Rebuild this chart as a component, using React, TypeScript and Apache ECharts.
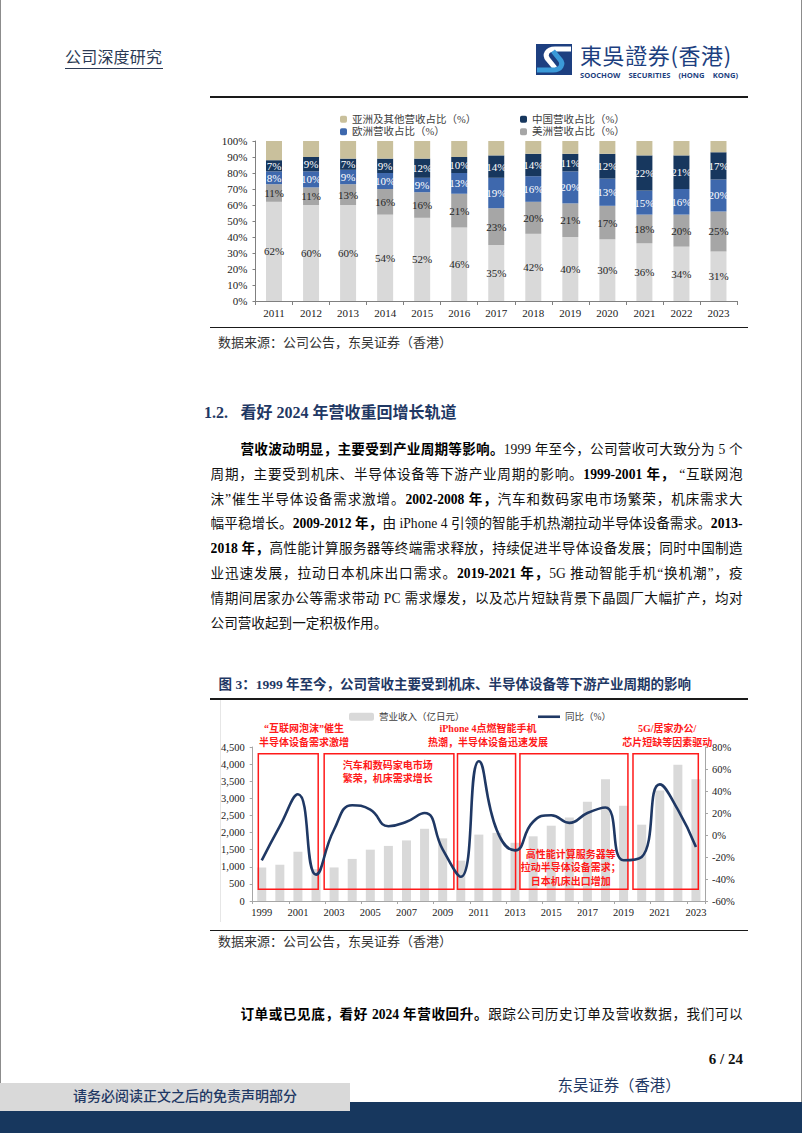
import React, { useEffect, useRef } from "react";
import * as echarts from "echarts";

const SERIF = "'Liberation Serif', 'Times New Roman', 'Noto Sans CJK SC', serif";
const CJK = "'Liberation Serif', 'Noto Sans CJK SC', sans-serif";
const NAVY = "#1f3864";

// ---------- Chart 1: revenue share by region ----------
const shareYears = ["2011", "2012", "2013", "2014", "2015", "2016", "2017", "2018", "2019", "2020", "2021", "2022", "2023"];
const japanShare = [62, 60, 60, 54, 52, 46, 35, 42, 40, 38.5, 36, 34, 31];
const americasShare = [11, 11, 13, 16, 16, 21, 23, 20, 21, 21, 18, 20, 25];
const europeShare = [8, 10, 9, 10, 9, 13, 19, 16, 20, 17, 15, 16, 20];
const chinaShare = [7, 9, 7, 9, 12, 10, 14, 14, 11, 15.5, 22, 21, 17];
const asiaOtherShare = [12, 10, 11, 11, 11, 10, 9, 8, 8, 8, 9, 9, 7];
// printed labels (as shown in the source figure)
const japanLabels = [62, 60, 60, 54, 52, 46, 35, 42, 40, 30, 36, 34, 31];
const americasLabels = [11, 11, 13, 16, 16, 21, 23, 20, 21, 17, 18, 20, 25];
const europeLabels = [8, 10, 9, 10, 9, 13, 19, 16, 20, 13, 15, 16, 20];
const chinaLabels = [7, 9, 7, 9, 12, 10, 14, 14, 11, 12, 22, 21, 17];

// ---------- Chart 2: revenue & YoY ----------
const revYears = ["1999", "2000", "2001", "2002", "2003", "2004", "2005", "2006", "2007", "2008", "2009", "2010", "2011", "2012", "2013", "2014", "2015", "2016", "2017", "2018", "2019", "2020", "2021", "2022", "2023"];
const revenue = [980, 1060, 1440, 930, 980, 1230, 1500, 1610, 1770, 2110, 1830, 1180, 1940, 1990, 1700, 1890, 2200, 2440, 2900, 3560, 2780, 2230, 3230, 3980, 3560];
const yoy = [-23, 8, 37, -36, 5, 27, 23, 8, 12, 20, -13, -38, 67, 4, -14, 12, 18, 11, 20, 25, -23, -20, 46, 23, -11];
const cycleBoxes = [
  { x0: 1998.81, x1: 2002.12, y0: 340, y1: 4300, tx: 2001.33, place: "above", text: "“互联网泡沫”催生\n半导体设备需求激增" },
  { x0: 2002.45, x1: 2009.62, y0: 340, y1: 4300, tx: 2005.97, place: "top", text: "汽车和数码家电市场\n繁荣，机床需求增长" },
  { x0: 2009.82, x1: 2013.03, y0: 340, y1: 4300, tx: 2011.5, place: "above", text: "iPhone 4点燃智能手机\n热潮，半导体设备迅速发展" },
  { x0: 2013.27, x1: 2019.24, y0: 340, y1: 4300, tx: 2016.08, place: "bottom", text: "高性能计算服务器等\n拉动半导体设备需求；\n日本机床出口增加" },
  { x0: 2019.52, x1: 2023.13, y0: 340, y1: 4300, tx: 2021.41, place: "above", text: "5G/居家办公/\n芯片短缺等因素驱动" },
];

function ShareChart() {
  const ref = useRef<HTMLDivElement>(null);
  useEffect(() => {
    const chart = echarts.init(ref.current!, null, { renderer: "svg" });
    const mk = (name: string, data: number[], labels: number[] | null, color: string, labelColor: string) => ({
      name,
      type: "bar",
      stack: "total",
      barWidth: 16,
      data,
      itemStyle: { color },
      emphasis: { disabled: true },
      label: labels
        ? {
            show: true,
            position: "inside",
            formatter: (p: any) => labels[p.dataIndex] + "%",
            color: labelColor,
            fontSize: 11,
            fontFamily: SERIF,
          }
        : { show: false },
    });
    chart.setOption({
      animation: false,
      grid: { left: 55.5, right: 23, top: 41, bottom: 25 },
      legend: [
        {
          orient: "vertical",
          left: 135,
          top: 9,
          itemWidth: 7,
          itemHeight: 7,
          itemGap: 2,
          data: ["亚洲及其他营收占比（%）", "欧洲营收占比（%）"],
          textStyle: { fontSize: 10.5, color: "#404040", fontFamily: CJK },
        },
        {
          orient: "vertical",
          left: 315,
          top: 9,
          itemWidth: 7,
          itemHeight: 7,
          itemGap: 2,
          data: ["中国营收占比（%）", "美洲营收占比（%）"],
          textStyle: { fontSize: 10.5, color: "#404040", fontFamily: CJK },
        },
      ],
      xAxis: {
        type: "category",
        data: shareYears,
        axisLine: { lineStyle: { color: "#808080" } },
        axisTick: { show: true, length: 4, lineStyle: { color: "#808080" } },
        axisLabel: { color: "#222", fontSize: 11, fontFamily: SERIF, margin: 6 },
      },
      yAxis: {
        type: "value",
        min: 0,
        max: 100,
        interval: 10,
        splitLine: { show: false },
        axisLine: { show: true, lineStyle: { color: "#808080" } },
        axisTick: { show: true, length: 3, lineStyle: { color: "#808080" } },
        axisLabel: { formatter: "{value}%", color: "#222", fontSize: 11, fontFamily: SERIF, margin: 8 },
      },
      series: [
        mk("日本营收占比（%）", japanShare, japanLabels, "#d9d9d9", "#262626"),
        mk("美洲营收占比（%）", americasShare, americasLabels, "#a6a6a6", "#262626"),
        mk("欧洲营收占比（%）", europeShare, europeLabels, "#3e68ad", "#ffffff"),
        mk("中国营收占比（%）", chinaShare, chinaLabels, "#17375e", "#ffffff"),
        mk("亚洲及其他营收占比（%）", asiaOtherShare, null, "#c9c09c", "#000"),
      ],
    });
    return () => chart.dispose();
  }, []);
  return <div ref={ref} style={{ position: "absolute", left: 200, top: 100, width: 560, height: 226 }} />;
}

function RevenueChart() {
  const ref = useRef<HTMLDivElement>(null);
  useEffect(() => {
    const chart = echarts.init(ref.current!, null, { renderer: "svg" });
    chart.setOption({
      animation: false,
      grid: { left: 52.7, right: 55, top: 47, bottom: 25 },
      legend: [
        {
          left: 144,
          top: 7,
          itemWidth: 25,
          itemHeight: 8,
          itemGap: 10,
          data: ["营业收入（亿日元）"],
          textStyle: { fontSize: 9.5, color: "#404040", fontFamily: CJK },
        },
        {
          left: 333,
          top: 7,
          itemWidth: 22,
          itemHeight: 2.6,
          data: [{ name: "同比（%）", icon: "rect" }],
          textStyle: { fontSize: 9.5, color: "#404040", fontFamily: CJK },
        },
      ],
      xAxis: [
        {
          type: "category",
          data: revYears,
          axisLine: { lineStyle: { color: "#a6a6a6" } },
          axisTick: { show: true, length: 3, lineStyle: { color: "#a6a6a6" } },
          axisLabel: { interval: 1, color: "#222", fontSize: 10.5, fontFamily: SERIF, margin: 6 },
        },
        { type: "value", min: 1998.5, max: 2023.5, show: false },
      ],
      yAxis: [
        {
          type: "value",
          min: 0,
          max: 4500,
          interval: 500,
          splitLine: { show: false },
          axisLine: { show: true, lineStyle: { color: "#a6a6a6" } },
          axisTick: { show: true, length: 3, lineStyle: { color: "#a6a6a6" } },
          axisLabel: {
            formatter: (v: number) => v.toLocaleString("en-US"),
            color: "#222",
            fontSize: 10.5,
            fontFamily: SERIF,
            margin: 8,
          },
        },
        {
          type: "value",
          min: -60,
          max: 80,
          interval: 20,
          position: "right",
          splitLine: { show: false },
          axisLine: { show: true, lineStyle: { color: "#a6a6a6" } },
          axisTick: { show: true, length: 3, lineStyle: { color: "#a6a6a6" } },
          axisLabel: { formatter: "{value}%", color: "#222", fontSize: 10.5, fontFamily: SERIF, margin: 7 },
        },
      ],
      series: [
        {
          name: "营业收入（亿日元）",
          type: "bar",
          data: revenue,
          barWidth: 9,
          itemStyle: { color: "#d9d9d9" },
          emphasis: { disabled: true },
          z: 1,
        },
        {
          type: "custom",
          xAxisIndex: 1,
          yAxisIndex: 0,
          silent: true,
          z: 3,
          data: cycleBoxes.map((b) => [b.x0, b.y0, b.x1, b.y1]),
          encode: { x: [0, 2], y: [1, 3] },
          renderItem: (params: any, api: any) => {
            const b = cycleBoxes[params.dataIndex];
            const tl = api.coord([b.x0, b.y1]);
            const br = api.coord([b.x1, b.y0]);
            const tx = api.coord([b.tx, b.y1])[0];
            let ty = tl[1] - 5;
            let va = "bottom";
            if (b.place === "top") {
              ty = tl[1] + 5;
              va = "top";
            } else if (b.place === "bottom") {
              ty = br[1] - 1.5;
              va = "bottom";
            }
            return {
              type: "group",
              children: [
                {
                  type: "rect",
                  shape: { x: tl[0], y: tl[1], width: br[0] - tl[0], height: br[1] - tl[1] },
                  style: { fill: "none", stroke: "#ff1a1a", lineWidth: 1.5 },
                },
                {
                  type: "text",
                  x: tx,
                  y: ty,
                  style: {
                    text: b.text,
                    fill: "#ff1a1a",
                    fontSize: 10,
                    fontWeight: "bold",
                    fontFamily: CJK,
                    align: "center",
                    verticalAlign: va,
                    lineHeight: 13.3,
                  },
                },
              ],
            };
          },
        },
        {
          name: "同比（%）",
          type: "line",
          yAxisIndex: 1,
          data: yoy,
          smooth: true,
          symbol: "none",
          lineStyle: { color: NAVY, width: 2.6 },
          itemStyle: { color: NAVY },
          emphasis: { disabled: true },
          z: 5,
        },
      ],
    });
    return () => chart.dispose();
  }, []);
  return <div ref={ref} style={{ position: "absolute", left: 200, top: 700, width: 560, height: 226 }} />;
}

const abs = (s: React.CSSProperties): React.CSSProperties => ({ position: "absolute", ...s });

function TextLine({ cy, left, width, justify = true, children }: any) {
  return (
    <div
      style={abs({
        left,
        top: cy - 10,
        width,
        height: 20,
        lineHeight: "20px",
        fontSize: 13.6,
        textAlign: justify ? "justify" : "left",
        textAlignLast: justify ? "justify" : "left",
        overflow: "hidden",
        color: "#111",
      })}
    >
      {children}
    </div>
  );
}

const B = ({ children }: any) => <b style={{ fontWeight: 700, color: "#000" }}>{children}</b>;

export default function App() {
  return (
    <div
      style={{
        position: "absolute",
        left: 0,
        top: 0,
        width: 802,
        height: 1133,
        background: "#fff",
        overflow: "hidden",
        fontFamily: CJK,
      }}
    >
      {/* page frame */}
      <div style={abs({ left: 0, top: 0, width: 1, height: 1133, background: "#8c8c8c" })} />
      <div style={abs({ left: 801, top: 0, width: 1, height: 1133, background: "#8c8c8c" })} />

      {/* header */}
      <div style={abs({ left: 65, top: 48, fontSize: 16, lineHeight: "20px", color: "#2b3a55", letterSpacing: 0.2 })}>公司深度研究</div>
      <div style={abs({ left: 65, top: 67.5, width: 98, height: 1, background: "#2b3a55" })} />

      {/* logo */}
      <svg width="36" height="31" viewBox="0 0 36 31" style={abs({ left: 536, top: 44 })}>
        <rect x="0" y="0" width="36" height="31" fill="#1d3f80" />
        <path d="M35 5 L19 5 C11 5 8 11 12 15.5 L19 24" stroke="#ffffff" strokeWidth="5" fill="none" />
        <path d="M1 26 L17 26 C25 26 28 20 24 15.5 L17 7" stroke="#3b9ad8" strokeWidth="5" fill="none" />
      </svg>
      <div
        style={abs({
          left: 580,
          top: 43,
          height: 22,
          fontSize: 22,
          lineHeight: "22px",
          letterSpacing: 0.6,
          color: "#1d3f80",
          fontFamily: "'Noto Sans CJK TC', 'Noto Sans CJK SC', sans-serif",
          whiteSpace: "nowrap",
        })}
      >
        東吳證券(香港)
      </div>
      <div
        style={abs({
          left: 580,
          top: 70.5,
          width: 158,
          height: 9,
          fontSize: 7.6,
          lineHeight: "9px",
          fontWeight: 700,
          color: "#1d3f80",
          fontFamily: "'Open Sans', 'DejaVu Sans', sans-serif",
          whiteSpace: "nowrap",
          textAlign: "justify",
          textAlignLast: "justify",
        })}
      >
        SOOCHOW SECURITIES (HONG KONG)
      </div>

      {/* chart 1 frame */}
      <div style={abs({ left: 210, top: 95.5, width: 538, height: 2.2, background: "#1a1a1a" })} />
      <ShareChart />
      <div style={abs({ left: 210, top: 326.5, width: 538, height: 1.3, background: "#1a1a1a" })} />
      <div style={abs({ left: 218, top: 333, fontSize: 13, lineHeight: "20px", color: "#333", whiteSpace: "nowrap" })}>
        数据来源：公司公告，东吴证券（香港）
      </div>

      {/* heading */}
      <div style={abs({ left: 204, top: 403, fontSize: 16, lineHeight: "20px", fontWeight: 700, color: NAVY, fontFamily: SERIF })}>1.2.</div>
      <div style={abs({ left: 240.5, top: 403, fontSize: 16, lineHeight: "20px", fontWeight: 700, color: NAVY, whiteSpace: "nowrap" })}>
        看好 2024 年营收重回增长轨道
      </div>

      {/* paragraph */}
      <TextLine cy={450} left={240.5} width={502}>
        <B>营收波动明显，主要受到产业周期等影响。</B>1999 年至今，公司营收可大致分为 5 个
      </TextLine>
      <TextLine cy={474.8} left={210.6} width={532}>
        周期，主要受到机床、半导体设备等下游产业周期的影响。<B>1999-2001 年，</B> “互联网泡
      </TextLine>
      <TextLine cy={499.6} left={210.6} width={532}>
        沫”催生半导体设备需求激增。<B>2002-2008 年，</B>汽车和数码家电市场繁荣，机床需求大
      </TextLine>
      <TextLine cy={524.4} left={210.6} width={532}>
        幅平稳增长。<B>2009-2012 年，</B>由 iPhone 4 引领的智能手机热潮拉动半导体设备需求。<B>2013-</B>
      </TextLine>
      <TextLine cy={549.2} left={210.6} width={532}>
        <B>2018 年，</B>高性能计算服务器等终端需求释放，持续促进半导体设备发展；同时中国制造
      </TextLine>
      <TextLine cy={574} left={210.6} width={532}>
        业迅速发展，拉动日本机床出口需求。<B>2019-2021 年，</B>5G 推动智能手机“换机潮”，疫
      </TextLine>
      <TextLine cy={598.8} left={210.6} width={532}>
        情期间居家办公等需求带动 PC 需求爆发，以及芯片短缺背景下晶圆厂大幅扩产，均对
      </TextLine>
      <TextLine cy={623.6} left={210.6} width={532} justify={false}>
        公司营收起到一定积极作用。
      </TextLine>

      {/* chart 2 caption */}
      <div
        style={abs({ left: 218.6, top: 675, fontSize: 13.5, lineHeight: "20px", fontWeight: 700, color: NAVY, whiteSpace: "nowrap" })}
      >
        图 3：1999 年至今，公司营收主要受到机床、半导体设备等下游产业周期的影响
      </div>
      <div style={abs({ left: 210, top: 697.5, width: 538, height: 2.2, background: "#1a1a1a" })} />
      <div style={abs({ left: 220, top: 700, width: 1, height: 222, background: "#e6e6e6" })} />
      <RevenueChart />
      <div style={abs({ left: 210, top: 929.5, width: 538, height: 1.3, background: "#1a1a1a" })} />
      <div style={abs({ left: 218, top: 932, fontSize: 13, lineHeight: "20px", color: "#333", whiteSpace: "nowrap" })}>
        数据来源：公司公告，东吴证券（香港）
      </div>

      {/* next paragraph */}
      <TextLine cy={1015} left={240.4} width={502.3}>
        <B>订单或已见底，看好 2024 年营收回升。</B>跟踪公司历史订单及营收数据，我们可以
      </TextLine>

      {/* footer */}
      <div
        style={abs({ left: 643, top: 1049, width: 100, textAlign: "right", fontSize: 15, lineHeight: "20px", fontWeight: 700, color: "#111", fontFamily: SERIF })}
      >
        6 / 24
      </div>
      <div style={abs({ left: 0, top: 1101.7, width: 802, height: 32, background: "#17375e" })} />
      <div style={abs({ left: 0, top: 1082.7, width: 350.4, height: 28, background: "#d9d9d9" })} />
      <div
        style={abs({ left: 0, top: 1086.7, width: 370, textAlign: "center", fontSize: 14, lineHeight: "20px", fontWeight: 500, color: NAVY, whiteSpace: "nowrap" })}
      >
        请务必阅读正文之后的免责声明部分
      </div>
      <div style={abs({ left: 557.5, top: 1076, fontSize: 15.4, lineHeight: "20px", color: NAVY, whiteSpace: "nowrap" })}>
        东吴证券（香港）
      </div>
    </div>
  );
}
